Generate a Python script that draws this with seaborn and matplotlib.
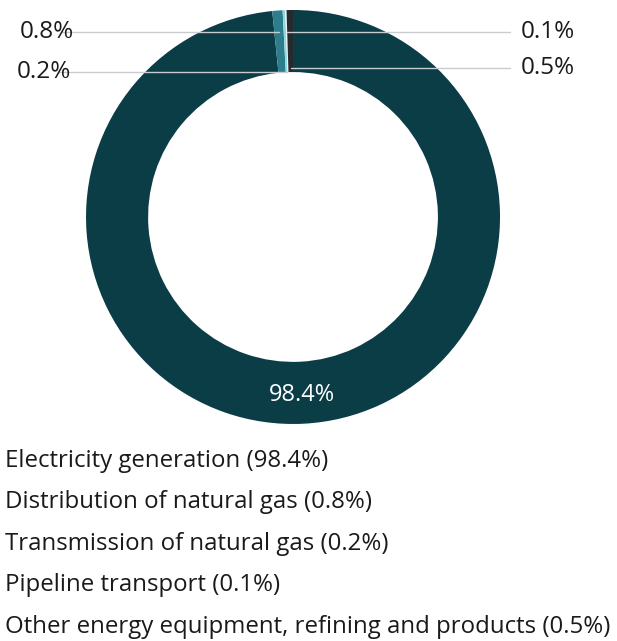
import numpy as np
import matplotlib
matplotlib.use('Agg')
import matplotlib.pyplot as plt
import seaborn as sns

sns.set_theme(style='white')
plt.rcParams['font.family'] = ['Open Sans', 'DejaVu Sans']

categories = ['Electricity generation', 'Distribution of natural gas',
              'Transmission of natural gas', 'Pipeline transport',
              'Other energy equipment, refining and products']
shares = [98.4, 0.8, 0.2, 0.1, 0.5]
colors = ['#0b3d47', '#2e7d8c', '#8fd8e3', '#e8f4f6', '#262a2c']

fig = plt.figure(figsize=(6.17, 6.41), dpi=100)
ax = fig.add_axes([0.1394, 0.3385, 0.671, 0.646])

wedges, _ = ax.pie(shares, colors=colors, startangle=90, counterclock=False,
                   radius=1.0, wedgeprops=dict(width=0.3, edgecolor='none'))
ax.set_xlim(-1, 1)
ax.set_ylim(-1, 1)
ax.set_aspect('equal')
ax.axis('off')

# big slice label inside the ring
w = wedges[0]
mid = np.deg2rad((w.theta1 + w.theta2) / 2)
ax.text(0.85 * np.cos(mid), 0.85 * np.sin(mid) - 0.012, f'{shares[0]}%',
        color='white', fontsize=17, ha='center', va='center')

# small slices: label text y and x (left / right of the ring)
label_y = {1: 0.894, 2: 0.700, 3: 0.894, 4: 0.720}
label_x = {1: -1.06, 2: -1.07, 3: 1.10, 4: 1.10}
for i in range(1, 5):
    w = wedges[i]
    th = np.deg2rad((w.theta1 + w.theta2) / 2)
    y = label_y[i]
    x = y / np.tan(th)
    left = label_x[i] < 0
    x0 = label_x[i] - 0.06 if left else label_x[i] - 0.05
    ax.plot([x0, x], [y, y], color='#c8ccd0', lw=1.0, zorder=3, clip_on=False)
    ax.text(label_x[i], y, f'{shares[i]}%', fontsize=17.5, color='#1a1a1a',
            ha='right' if left else 'left', va='center')

# legend as plain text lines
ys = [461, 502, 544, 585, 627]
for name, val, py in zip(categories, shares, ys):
    fig.text(5 / 617, 1 - py / 641, f'{name} ({val}%)', fontsize=17.3,
             color='#1a1a1a', ha='left', va='center')

fig.savefig('out.png', dpi=100)
